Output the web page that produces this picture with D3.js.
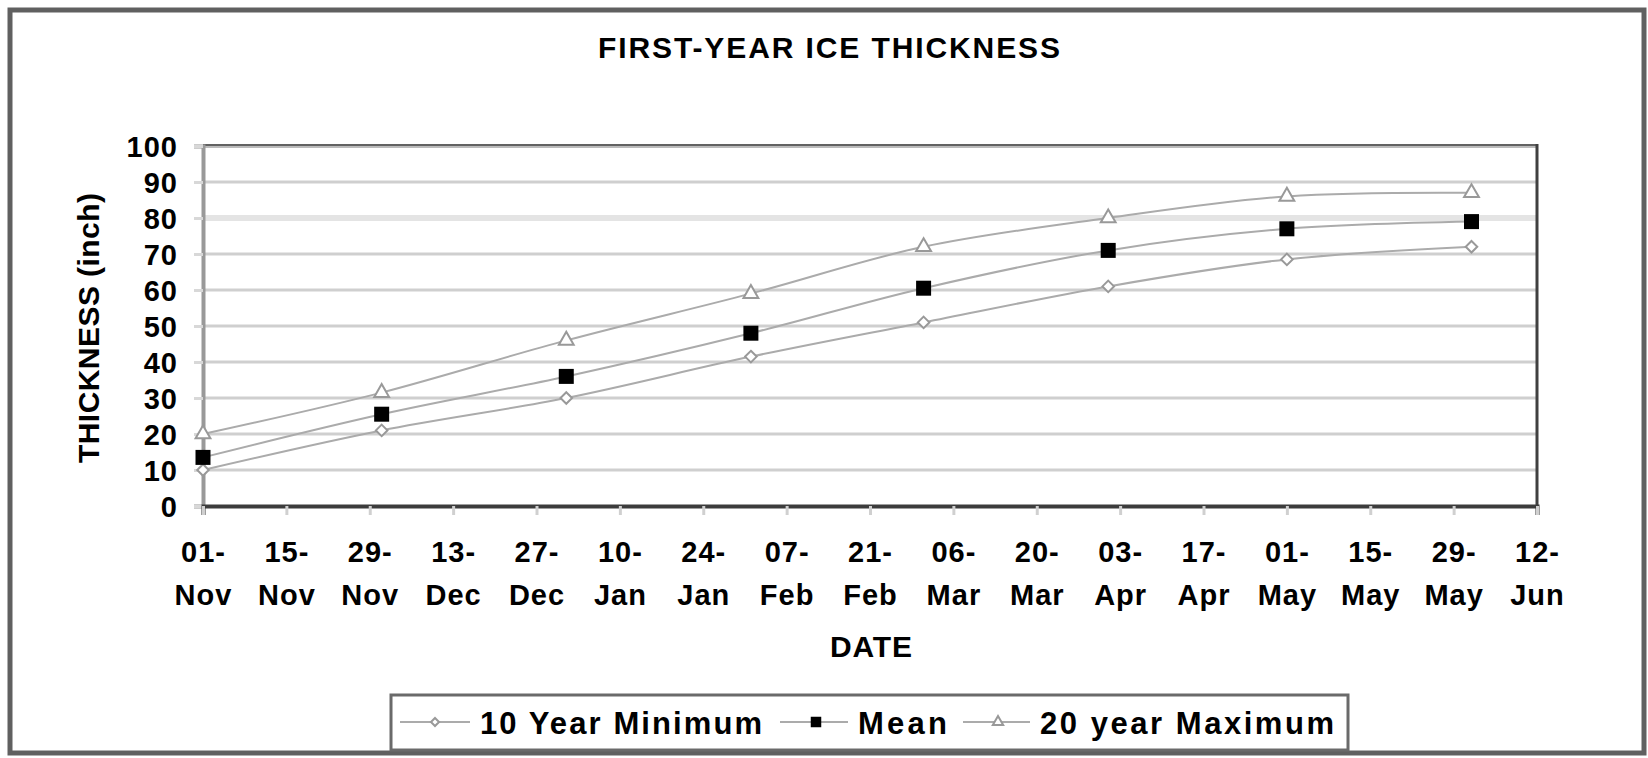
<!DOCTYPE html>
<html>
<head>
<meta charset="utf-8">
<script src="https://cdn.jsdelivr.net/npm/d3@7"></script>
<style>
  html, body { margin: 0; padding: 0; background: #fff; }
  svg { display: block; }
  text { font-family: "Liberation Sans", Arial, sans-serif; font-weight: bold; fill: #000; }
</style>
</head>
<body>
<div id="chart"></div>
<script>
// data (first of each month)
var months = ["2003-11-01", "2003-12-01", "2004-01-01", "2004-02-01", "2004-03-01", "2004-04-01", "2004-05-01", "2004-06-01"];
var minVals = [10, 21, 30, 41.5, 51, 61, 68.5, 72];
var meanVals = [13.5, 25.5, 36, 48, 60.5, 71, 77, 79];
var maxVals = [20, 31.5, 46, 59, 72, 80, 86, 87];
var seriesNames = ["10 Year Minimum", "Mean", "20 year Maximum"];

// axis ticks
var tickDates = ["2003-11-01", "2003-11-15", "2003-11-29", "2003-12-13", "2003-12-27", "2004-01-10", "2004-01-24",
  "2004-02-07", "2004-02-21", "2004-03-06", "2004-03-20", "2004-04-03", "2004-04-17", "2004-05-01",
  "2004-05-15", "2004-05-29", "2004-06-12"];
var yTicks = [0, 10, 20, 30, 40, 50, 60, 70, 80, 90, 100];

var W = 1648, H = 758;
var plot = { left: 203, right: 1537, top: 146, bottom: 506 };

var parse = d3.utcParse("%Y-%m-%d");

var svg = d3.select("#chart").append("svg")
  .attr("width", W)
  .attr("height", H);

// outer frame
svg.append("rect")
  .attr("x", 10).attr("y", 10)
  .attr("width", 1634).attr("height", 743)
  .attr("fill", "#fff")
  .attr("stroke", "#606060")
  .attr("stroke-width", 5);

var x = d3.scaleUtc()
  .domain([parse(tickDates[0]), parse(tickDates[tickDates.length - 1])])
  .range([plot.left, plot.right]);

var y = d3.scaleLinear()
  .domain([0, 100])
  .range([plot.bottom, plot.top]);

// gridlines
svg.append("g")
  .selectAll("line")
  .data(yTicks.filter(function (d) { return d > 0 && d < 100; }))
  .enter()
  .append("line")
  .attr("x1", plot.left).attr("x2", plot.right)
  .attr("y1", function (d) { return y(d); })
  .attr("y2", function (d) { return y(d); })
  .attr("stroke", function (d) { return d == 80 ? "#e4e4e4" : "#cfcfcf"; })
  .attr("stroke-width", function (d) { return d == 80 ? 6 : 3; });

// top line of plot area
svg.append("line")
  .attr("x1", plot.left).attr("x2", plot.right)
  .attr("y1", plot.top).attr("y2", plot.top)
  .attr("stroke", "#bbb").attr("stroke-width", 4);
svg.append("line")
  .attr("x1", plot.left).attr("x2", plot.right)
  .attr("y1", plot.top - 1).attr("y2", plot.top - 1)
  .attr("stroke", "#626262").attr("stroke-width", 2);

// right border
svg.append("line")
  .attr("x1", plot.right).attr("x2", plot.right)
  .attr("y1", plot.top - 2).attr("y2", plot.bottom)
  .attr("stroke", "#404040").attr("stroke-width", 3);

// y axis
var yAxis = svg.append("g")
  .attr("transform", "translate(" + plot.left + ",0)")
  .call(d3.axisLeft(y).tickValues(yTicks).tickSize(9).tickPadding(16).tickFormat(d3.format("d")));
yAxis.select(".domain").attr("stroke", "#999").attr("stroke-width", 4);
yAxis.selectAll(".tick line").attr("stroke", "#d8d8d8").attr("stroke-width", 3);
yAxis.selectAll(".tick text")
  .attr("font-size", 29)
  .attr("letter-spacing", 1)
  .attr("dy", "0.36em")
  .attr("fill", "#000");

// x axis
var xAxis = svg.append("g")
  .attr("transform", "translate(0," + plot.bottom + ")")
  .call(d3.axisBottom(x).tickValues(tickDates.map(parse)).tickSize(9).tickFormat(""));
xAxis.select(".domain").attr("stroke", "#3c3c3c").attr("stroke-width", 4);
xAxis.selectAll(".tick line").attr("stroke", "#d0d0d0").attr("stroke-width", 3);

var fDay = d3.utcFormat("%d-"), fMon = d3.utcFormat("%b");
var xLab = xAxis.selectAll(".tick").append("text")
  .attr("text-anchor", "middle")
  .attr("font-size", 29)
  .attr("letter-spacing", 1);
xLab.append("tspan").attr("x", 0).attr("y", 56).text(function (d) { return fDay(d); });
xLab.append("tspan").attr("x", 0).attr("y", 99).text(function (d) { return fMon(d); });

// titles
svg.append("text")
  .attr("x", 829).attr("y", 58)
  .attr("text-anchor", "middle")
  .attr("font-size", 30)
  .attr("textLength", 462).attr("lengthAdjust", "spacing")
  .text("FIRST-YEAR ICE THICKNESS");

svg.append("text")
  .attr("transform", "translate(99,328) rotate(-90)")
  .attr("text-anchor", "middle")
  .attr("font-size", 30)
  .attr("textLength", 270).attr("lengthAdjust", "spacing")
  .text("THICKNESS (inch)");

svg.append("text")
  .attr("x", 871).attr("y", 657)
  .attr("text-anchor", "middle")
  .attr("font-size", 30)
  .attr("textLength", 82).attr("lengthAdjust", "spacing")
  .text("DATE");

// series
var dates = months.map(parse);
var series = [
  { name: seriesNames[0], values: minVals, shape: "diamond" },
  { name: seriesNames[1], values: meanVals, shape: "square" },
  { name: seriesNames[2], values: maxVals, shape: "triangle" }
];

var line = d3.line()
  .x(function (d, i) { return x(dates[i]); })
  .y(function (d) { return y(d); })
  .curve(d3.curveCardinal.tension(0));

svg.append("g")
  .selectAll("path")
  .data(series)
  .enter()
  .append("path")
  .attr("d", function (s) { return line(s.values); })
  .attr("fill", "none")
  .attr("stroke", "#ababab")
  .attr("stroke-width", 2);

function marker(sel, shape, big) {
  var k = big ? 1 : 0.7;
  if (shape == "diamond") {
    sel.append("path")
      .attr("d", d3.symbol(d3.symbolDiamond2, 85 * k * k))
      .attr("fill", "#fff").attr("stroke", "#999").attr("stroke-width", 2);
  } else if (shape == "square") {
    sel.append("path")
      .attr("d", d3.symbol(d3.symbolSquare, 225 * k * k))
      .attr("fill", "#000");
  } else {
    sel.append("path")
      .attr("d", d3.symbol(d3.symbolTriangle, 95 * k * k))
      .attr("fill", "#fff").attr("stroke", "#999").attr("stroke-width", 2);
  }
}

series.forEach(function (s) {
  svg.append("g")
    .selectAll("g")
    .data(s.values)
    .enter()
    .append("g")
    .attr("transform", function (d, i) { return "translate(" + x(dates[i]) + "," + y(d) + ")"; })
    .each(function () { marker(d3.select(this), s.shape, true); });
});

// legend
var legend = svg.append("g");
legend.append("rect")
  .attr("x", 391).attr("y", 695)
  .attr("width", 957).attr("height", 55)
  .attr("fill", "#fff")
  .attr("stroke", "#6a6a6a")
  .attr("stroke-width", 3);

var legItems = [
  { lx: 400, mx: 435, tx: 480, tw: 282 },
  { lx: 780, mx: 816, tx: 858, tw: 89 },
  { lx: 963, mx: 998, tx: 1040, tw: 294 }
];
series.forEach(function (s, i) {
  var it = legItems[i];
  legend.append("line")
    .attr("x1", it.lx).attr("x2", it.tx - 10)
    .attr("y1", 722).attr("y2", 722)
    .attr("stroke", "#ababab").attr("stroke-width", 2);
  var g = legend.append("g").attr("transform", "translate(" + it.mx + ",722)");
  marker(g, s.shape, false);
  legend.append("text")
    .attr("x", it.tx).attr("y", 734)
    .attr("font-size", 31)
    .attr("textLength", it.tw).attr("lengthAdjust", "spacing")
    .text(s.name);
});
</script>
</body>
</html>
